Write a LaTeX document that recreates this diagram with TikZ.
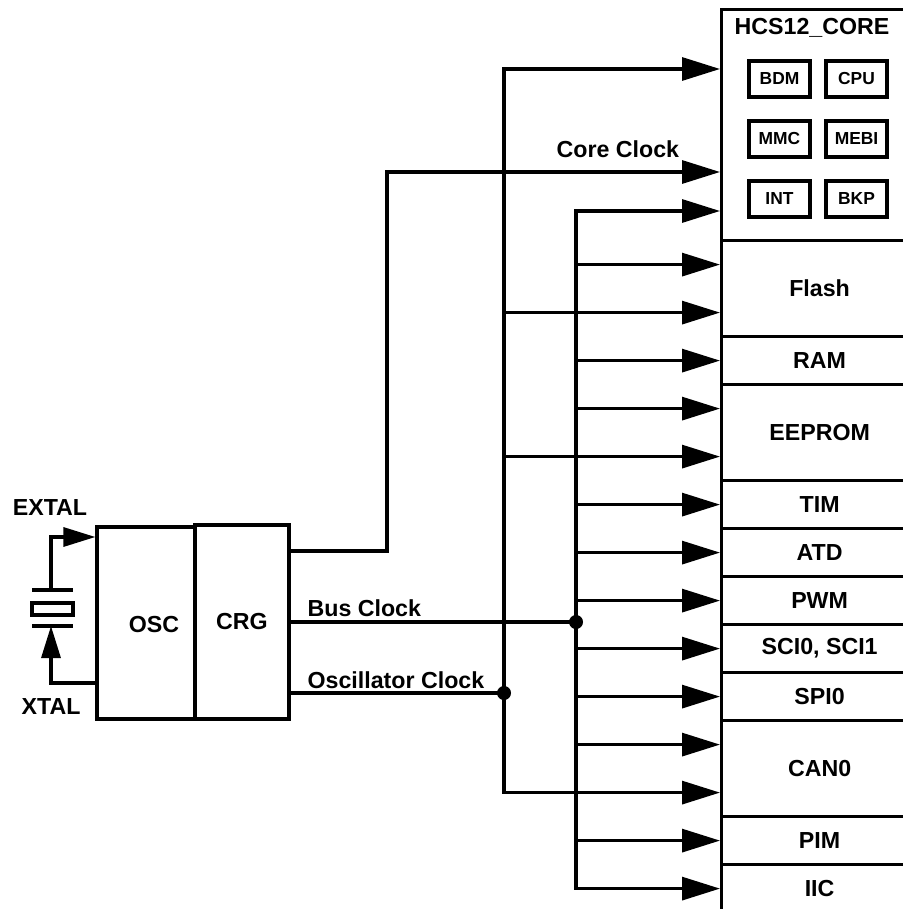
\documentclass[tikz,border=0pt]{standalone}
\usepackage{fontspec}
\setmainfont{Liberation Sans}
\usetikzlibrary{arrows.meta, calc, positioning}

\tikzset{
  blk/.style={draw, minimum width=98pt, inner sep=0pt, font=\bfseries\fontsize{11.6}{13}\selectfont},
  subblk/.style={draw, minimum width=30.5pt, minimum height=18pt, inner sep=0pt, font=\bfseries\fontsize{8.7}{10}\selectfont},
  lbl/.style={inner sep=0pt, font=\bfseries\fontsize{11.6}{13}\selectfont},
  clk/.style={-{Triangle[length=19pt,width=11.5pt]}},
  clkboth/.style={{Triangle[length=19pt,width=11.5pt]}-{Triangle[length=19pt,width=11.5pt]}},
  xtip/.style={-{Triangle[length=16pt,width=9.5pt]}}
}

\begin{document}
\begin{tikzpicture}[x=0.5pt, y=-0.5pt, line width=1.6pt]
        \useasboundingbox (0,0) rectangle (903,909);
        \clip (0,0) rectangle (903,909);
        % oscillator and clock generator
        \node[draw, minimum width=49pt, minimum height=96pt] (osc) at (146,623) {};
        \node[lbl] (osclbl) at (154,625) {OSC};
        \node[draw, minimum width=47pt, minimum height=97pt, font=\bfseries\fontsize{11.6}{13}\selectfont] (crg) at (242,622) {CRG};
        % crystal
        \draw (32,590) -- (73,590);
        \draw (32,603) rectangle (73,615);
        \draw (32,626) -- (73,626);
        \coordinate (extal) at ([yshift=43pt]osc.west);
        \coordinate (xtal) at ([yshift=-30pt]osc.west);
        \draw[xtip] (51,590) |- (extal);
        \draw[xtip] (xtal) -| (51,626);
        \node[lbl] (extallbl) at (50,508) {EXTAL};
        \node[lbl] (xtallbl) at (51,707) {XTAL};
        % core block
        \node[blk, minimum height=115.5pt, anchor=north west] (core) at (720,8) {};
        \node[lbl] (corelbl) at (812,28) {HCS12\_CORE};
        \node[subblk] (bdm) at (779.5,79) {BDM};
        \node[subblk] (cpu) at (856.5,79) {CPU};
        \node[subblk] (mmc) at (779.5,139) {MMC};
        \node[subblk] (mebi) at (856.5,139) {MEBI};
        \node[subblk] (int) at (779.5,199) {INT};
        \node[subblk] (bkp) at (856.5,199) {BKP};
        % peripherals
        \node[blk, minimum height=48pt, anchor=north west] (flash) at (720,239) {Flash};
        \node[blk, minimum height=24pt, anchor=north west] (ram) at (720,335) {RAM};
        \node[blk, minimum height=48pt, anchor=north west] (eeprom) at (720,383) {EEPROM};
        \node[blk, minimum height=24pt, anchor=north west] (tim) at (720,479) {TIM};
        \node[blk, minimum height=24pt, anchor=north west] (atd) at (720,527) {ATD};
        \node[blk, minimum height=24pt, anchor=north west] (pwm) at (720,575) {PWM};
        \node[blk, minimum height=24pt, anchor=north west] (sci) at (720,623) {SCI0, SCI1};
        \node[blk, minimum height=24pt, anchor=north west] (spi) at (720,671) {SPI0};
        \node[blk, minimum height=48pt, anchor=north west] (can) at (720,719) {CAN0};
        \node[blk, minimum height=24pt, anchor=north west] (pim) at (720,815) {PIM};
        \node[blk, minimum height=24pt, anchor=north west] (iic) at (720,863) {IIC};
        % clock lines
        \coordinate (bus) at (576,211);
        \coordinate (osctop) at (504,69);
        \coordinate (cin1) at (core.west |- osctop);
        \coordinate (cin2) at (core.west |- 0,172);
        \coordinate (cin3) at (core.west |- bus);
        \foreach \b in {flash,eeprom,can} {
            \coordinate (\b-in1) at ([yshift=12pt]\b.west);
            \coordinate (\b-in2) at ([yshift=-12pt]\b.west);
        }
        \coordinate (coreout) at ([yshift=35.5pt]crg.east);
        \coordinate (oscout) at ([yshift=-35.5pt]crg.east);
        \coordinate (busjoin) at (bus |- crg.east);
        \coordinate (oscjoin) at (osctop |- oscout);
        % core clock
        \draw[clk] (coreout) -| (387,172) -- (cin2);
        \node[lbl, anchor=base west] (corecklbl) at (555,158) {Core Clock};
        % oscillator clock
        \draw[clkboth] (cin1) -- (osctop) -- (osctop |- can-in2) -- (can-in2);
        \draw[clk] (osctop |- flash-in2) -- (flash-in2);
        \draw[clk] (osctop |- eeprom-in2) -- (eeprom-in2);
        \draw (oscout) -- (oscjoin);
        \fill (oscjoin) circle (3.5pt);
        \node[lbl, anchor=base west] (oscklbl) at (306,688) {Oscillator Clock};
        % bus clock
        \draw[clkboth] (cin3) -- (bus) -- (bus |- iic.west) -- (iic.west);
        \foreach \b in {flash-in1,ram,eeprom-in1,tim,atd,pwm,sci,spi,can-in1,pim} {
            \draw[clk] (bus |- \b) -- (\b);
        }
        \draw (crg.east) -- (busjoin);
        \fill (busjoin) circle (3.5pt);
        \node[lbl, anchor=base west] (buscklbl) at (306,616) {Bus Clock};
\end{tikzpicture}
\end{document}
